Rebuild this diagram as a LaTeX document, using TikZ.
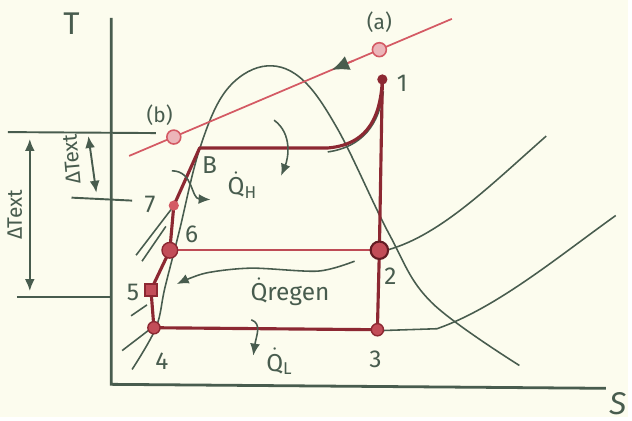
\documentclass[tikz,border=0pt]{standalone}
\usepackage{fontspec}
\setmainfont{Fira Sans}
\usepackage{amsmath}
\definecolor{paper}{RGB}{252,252,238}
\definecolor{ink}{RGB}{72,92,78}
\definecolor{cyclered}{RGB}{140,40,50}
\definecolor{extred}{RGB}{212,90,100}
\usetikzlibrary{positioning,arrows.meta}

\begin{document}
\begin{tikzpicture}[
  x=0.02cm, y=-0.02cm,
  curve/.style={draw=ink, line width=0.9pt},
  cyc/.style={draw=cyclered, line width=1.8pt, line join=round},
  extline/.style={draw=extred, line width=1pt},
  state/.style={circle, draw=cyclered, fill=extred!75!cyclered, line width=0.8pt, inner sep=0pt, minimum size=7pt},
  extpt/.style={circle, draw=extred, fill=extred!45, line width=0.9pt, inner sep=0pt, minimum size=8pt},
  lbl/.style={text=ink, font=\fontsize{14}{16}\selectfont},
  small/.style={text=ink, font=\fontsize{12}{14}\selectfont},
  arr/.style={-{Latex[length=2.4mm,width=2mm]}, draw=ink, line width=0.9pt},
  dim/.style={{Latex[length=2.4mm,width=2mm]}-{Latex[length=2.4mm,width=2mm]}, draw=ink, line width=1.1pt}
]
\fill[paper] (0,0) rectangle (632,420);

% axes
\coordinate (ytop) at (112,18);
\coordinate (origin) at (112,387);
\coordinate (xend) at (610,391);
\draw[ink, line width=1.6pt] (ytop) -- (origin) -- (xend);
\node[lbl, font=\fontsize{18}{20}\selectfont] (taxis) at (72,24) {T};
\node[lbl, font=\fontsize{18}{20}\selectfont\itshape] (saxis) at (622,406) {S};

% dome and isobars
\draw[curve] plot[smooth, tension=0.6] coordinates {(133,372) (157,330) (166,290) (180,235) (201,150) (227,92) (264,67) (302,78) (340,130) (392,236) (434,304) (523,368)};
\draw[curve] (385,253) .. controls (440,240) and (490,190) .. (550,137);
\draw[curve] (380,333) -- (440,331) .. controls (500,310) and (560,260) .. (620,217);
\draw[curve] (330,153) .. controls (365,148) and (382,125) .. (386,92);
\draw[curve] (137,257) -- (173,210);
\draw[curve] (143,263) -- (167,228);
\draw[curve] (132,318) -- (148,307);
\draw[curve] (123,353) -- (153,330);

% external fluid
\coordinate (ext0) at (130,157);
\coordinate (ext1) at (455,19);
\draw[extline] (ext0) -- (ext1);
\draw[extline, -{Latex[length=3.5mm,width=3mm,color=ink]}] (356,61) -- (334,70.4);
\node[extpt] (pa) at (382,50) {};
\node[extpt] (pb) at (175,138) {};
\node[small, above=2pt of pa] (la) {(a)};
\node[small, above left=0pt and -6pt of pb] (lb) {(b)};

% cycle
\coordinate (s1) at (385,80);
\coordinate (s2) at (382,252);
\coordinate (s3) at (380,332);
\coordinate (s4) at (155,330);
\coordinate (s5) at (152,292);
\coordinate (s6) at (171,252);
\coordinate (s7) at (175,207);
\coordinate (sB) at (201,149);
\draw[cyc, draw=extred!70!cyclered, line width=1.4pt] (s6) -- (s2);
\draw[cyc] (s1) -- (s2) -- (s3) -- (s4) -- (s5) -- (s6) -- (s7) -- (sB) -- (330,149) .. controls (365,146) and (383,125) .. (s1);
\node[state, fill=cyclered, minimum size=5pt] (p1) at (s1) {};
\node[state, minimum size=10pt, line width=1.2pt, draw=cyclered!70!black] (p2) at (s2) {};
\node[state] (p3) at (s3) {};
\node[state] (p4) at (s4) {};
\node[state, rectangle, minimum size=7pt] (p5) at (s5) {};
\node[state, minimum size=9pt] (p6) at (s6) {};
\node[state, draw=extred, fill=extred, minimum size=5pt] (p7) at (s7) {};

% labels
\node[lbl] (l1) at (405,84) {1};
\node[lbl] (l2) at (393,278) {2};
\node[lbl] (l3) at (378,362) {3};
\node[lbl] (l4) at (163,364) {4};
\node[lbl] (l5) at (134,294) {5};
\node[lbl] (l6) at (193,236) {6};
\node[lbl] (l7) at (151,206) {7};
\node[lbl] (lB) at (211,166) {B};

% heat flows
\draw[arr] (173,172) .. controls (195,172) and (192,200) .. (212,201);
\node[lbl, anchor=west] (qh) at (223,186) {\(\dot{\text{Q}}_{\text{H}}\)};
\draw[arr] (276,121) .. controls (295,135) and (290,160) .. (283,177);
\draw[arr] plot[smooth] coordinates {(357,263) (320,273) (253,270) (207,275) (178,286)};
\node[lbl] (qregen) at (292,294) {\(\dot{\text{Q}}\)regen};
\draw[arr] (253,322) .. controls (264,326) and (258,338) .. (255,358);
\node[lbl, anchor=west] (ql) at (262,364) {\(\dot{\text{Q}}_{\text{L}}\)};

% temperature differences
\draw[ink, line width=1.1pt] (8,133) -- (157,134);
\draw[ink, line width=1.1pt] (72,199) -- (133,202);
\draw[ink, line width=1.1pt] (17,299) -- (112,299);
\coordinate (dA) at (30,140);
\coordinate (dB) at (30,293);
\coordinate (dC) at (89,137);
\coordinate (dD) at (97,194);
\draw[dim] (dA) -- (dB);
\draw[dim] (dC) -- (dD);
\node[small, rotate=90] (dtbig) at (15,216) {ΔText};
\node[small, rotate=95] (dtsmall) at (72,160) {ΔText};
\end{tikzpicture}
\end{document}
